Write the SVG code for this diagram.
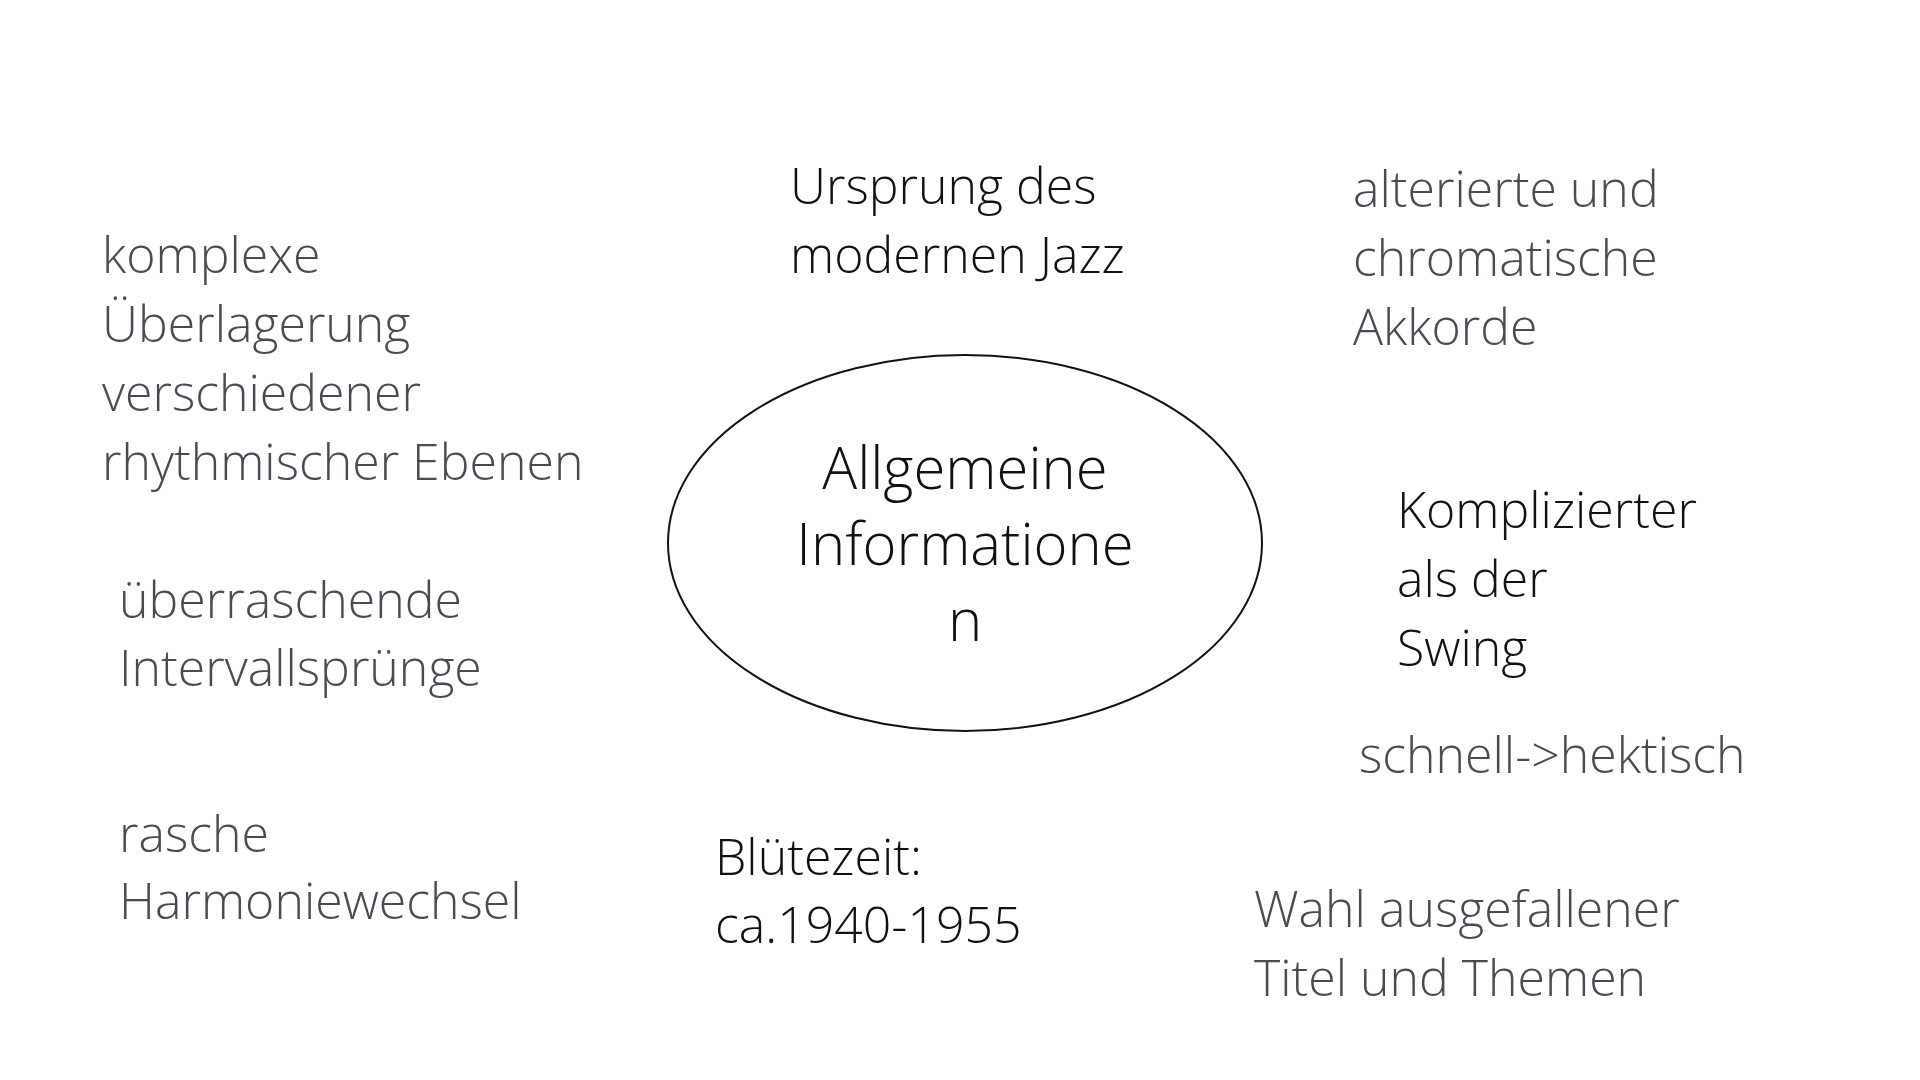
<svg xmlns="http://www.w3.org/2000/svg" width="1920" height="1080" viewBox="0 0 1920 1080">
<style>
text{font-family:"Open Sans","Liberation Sans",sans-serif;font-size:50px;font-weight:300}
.g{fill:#4a4a55}.k{fill:#111}
.c{font-size:58px;text-anchor:middle;fill:#111}
</style>
<rect width="1920" height="1080" fill="#fff"/>
<g id="center"><ellipse cx="965" cy="543" rx="297" ry="188" fill="none" stroke="#111" stroke-width="2"/>
<text class="c" x="965" y="489">Allgemeine</text><text class="c" x="965" y="565">Informatione</text><text class="c" x="965" y="641">n</text></g>
<g id="n1"><text class="g" x="102" y="273">komplexe</text><text class="g" x="102" y="342">Überlagerung</text><text class="g" x="102" y="411">verschiedener</text><text class="g" x="102" y="480">rhythmischer Ebenen</text></g>
<g id="n2"><text class="g" x="119" y="618">überraschende</text><text class="g" x="119" y="686">Intervallsprünge</text></g>
<g id="n3"><text class="g" x="119" y="852">rasche</text><text class="g" x="119" y="919">Harmoniewechsel</text></g>
<g id="n4"><text class="k" x="790" y="204">Ursprung des</text><text class="k" x="790" y="273">modernen Jazz</text></g>
<g id="n5"><text class="g" x="1353" y="207">alterierte und</text><text class="g" x="1353" y="276">chromatische</text><text class="g" x="1353" y="345">Akkorde</text></g>
<g id="n6"><text class="k" x="1397" y="528">Komplizierter</text><text class="k" x="1397" y="597">als der</text><text class="k" x="1397" y="666">Swing</text></g>
<g id="n7"><text class="g" x="1359" y="773">schnell-&gt;hektisch</text></g>
<g id="n8"><text class="k" x="715" y="875">Blütezeit:</text><text class="k" x="715" y="943">ca.1940-1955</text></g>
<g id="n9"><text class="g" x="1254" y="927">Wahl ausgefallener</text><text class="g" x="1254" y="996">Titel und Themen</text></g>
<g id="connectors"/>
</svg>
